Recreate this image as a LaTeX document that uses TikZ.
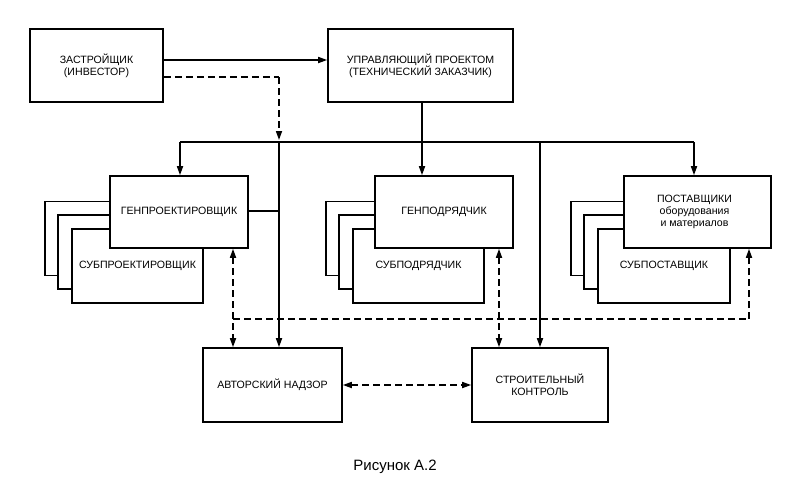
\documentclass[tikz,border=0pt]{standalone}
\usepackage{fontspec}
\setmainfont{Liberation Sans}
\usetikzlibrary{arrows.meta}
\begin{document}
\begin{tikzpicture}[x=1pt,y=-1pt,
  box/.style={draw,line width=1.6pt,fill=white,inner sep=2pt,align=center,
    font=\fontsize{10.6}{11.8}\selectfont},
  ln/.style={line width=1.6pt},
  arr/.style={ln,-{Triangle[length=9pt,width=6pt]}},
  dsh/.style={ln,dash pattern=on 7pt off 4pt},
  darr/.style={dsh,-{Triangle[length=9pt,width=6pt]}},
  dbarr/.style={dsh,{Triangle[length=9pt,width=6pt]}-{Triangle[length=9pt,width=6pt]}},
  bk/.style={box,minimum width=131pt,minimum height=74pt}
]
\useasboundingbox (0,0) rectangle (792,490);

% top boxes
\node[box,minimum width=133pt,minimum height=73pt] (zast) at (96.5,65.5) {ЗАСТРОЙЩИК\\(ИНВЕСТОР)};
\node[box,minimum width=185pt,minimum height=73pt] (upr) at (420.5,65.5) {УПРАВЛЯЮЩИЙ ПРОЕКТОМ\\(ТЕХНИЧЕСКИЙ ЗАКАЗЧИК)};

% left stack
\node[bk] (gb1) at (110.5,238.5) {};
\node[bk] (gb2) at (123.5,252) {};
\node[bk] (gsub) at (137.5,266) {СУБПРОЕКТИРОВЩИК};
\node[box,minimum width=138pt,minimum height=72pt] (genpr) at (179,212) {ГЕНПРОЕКТИРОВЩИК};

% middle stack
\node[bk] (pb1) at (391.5,238.5) {};
\node[bk] (pb2) at (404.5,252) {};
\node[bk] (psub) at (418.5,266) {СУБПОДРЯДЧИК};
\node[box,minimum width=138pt,minimum height=72pt] (genpod) at (444,212) {ГЕНПОДРЯДЧИК};

% right stack
\node[bk] (sb1) at (636.5,238.5) {};
\node[bk] (sb2) at (649.5,252) {};
\node[bk,minimum width=132pt] (ssub) at (664,266) {СУБПОСТАВЩИК};
\node[box,minimum width=147pt,minimum height=72pt] (post) at (697.5,212) {\hspace*{-6pt}ПОСТАВЩИКИ\\\hspace*{-6pt}оборудования\\\hspace*{-6pt}и материалов};

% bottom boxes
\node[box,minimum width=139pt,minimum height=74pt] (avt) at (272.5,385) {АВТОРСКИЙ НАДЗОР};
\node[box,minimum width=136pt,minimum height=74pt] (str) at (540,385) {СТРОИТЕЛЬНЫЙ\\КОНТРОЛЬ};

% caption
\node[font=\fontsize{15}{18}\selectfont] (cap) at (395,467) {Рисунок А.2};

% helper coordinates
\coordinate (zs) at (163,60);
\coordinate (zd) at (163,77);
\coordinate (jd) at (279,77);
\coordinate (jdb) at (279,140);
\coordinate (busL) at (180,142);
\coordinate (busR) at (694,142);
\coordinate (busA) at (279,142);
\coordinate (busS) at (540,142);
\coordinate (uX) at (422,142);
\coordinate (gpE) at (279,211);
\coordinate (dL) at (233,319);
\coordinate (dR) at (749,319);
\coordinate (dM) at (499,319);

% solid connectors
\draw[arr] (zast.east |- zs) -- (upr.west |- zs);
\draw[arr] (upr.south -| uX) -- (genpod.north -| uX);
\draw[ln] (busL) -- (busR);
\draw[arr] (busL) -- (genpr.north -| busL);
\draw[arr] (busR) -- (post.north -| busR);
\draw[arr] (busA) -- (avt.north -| busA);
\draw[ln] (genpr.east |- gpE) -- (gpE);
\draw[arr] (busS) -- (str.north -| busS);

% dashed connectors
\draw[dsh] (zast.east |- zd) -- (jd);
\draw[darr] (jd) -- (jdb);
\draw[dbarr] (genpr.south -| dL) -- (avt.north -| dL);
\draw[dsh] (dL) -- (dR);
\draw[darr] (dR) -- (post.south -| dR);
\draw[dbarr] (genpod.south -| dM) -- (str.north -| dM);
\draw[dbarr] (avt.east) -- (str.west);
\end{tikzpicture}
\end{document}
